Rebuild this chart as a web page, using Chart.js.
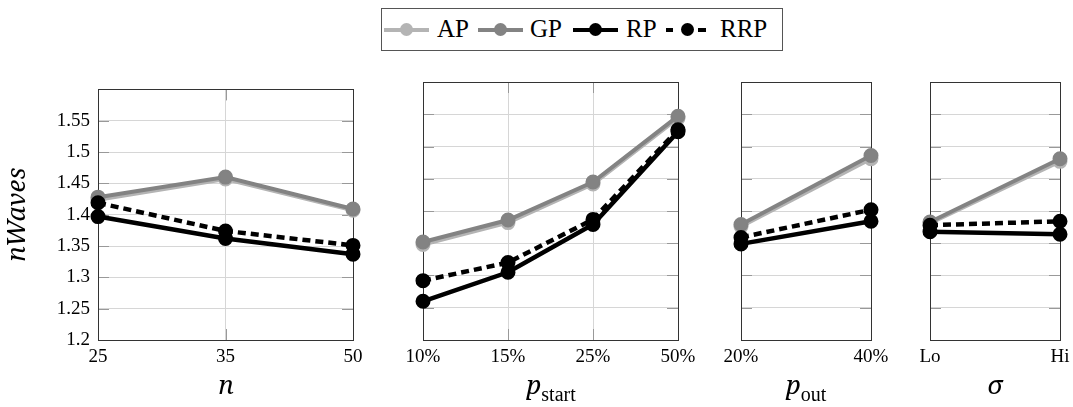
<!DOCTYPE html>
<html>
<head>
<meta charset="utf-8">
<script src="https://cdn.jsdelivr.net/npm/chart.js@4"></script>
<style>
  body { margin: 0; background: #fff; }
  #wrap { position: relative; width: 1073px; height: 407px; overflow: hidden; font-family: 'Liberation Serif', 'Times New Roman', serif; }
  canvas { position: absolute; }
  #legend { position: absolute; left: 381px; top: 8px; width: 400px; height: 41px; border: 1px solid #555; }
  .item { position: absolute; top: 0; height: 41px; }
  .sample { position: absolute; top: 19px; height: 4px; }
  .dot { position: absolute; top: 14px; width: 13px; height: 13px; border-radius: 50%; }
  .lbl { position: absolute; top: 6px; font-size: 25px; line-height: 28px; color: #000; white-space: nowrap; }
  .xt { position: absolute; top: 370px; font-family: 'Noto Serif', serif; font-size: 26px; line-height: 28px; font-style: italic; transform: translateX(-50%); white-space: nowrap; }
  .xt sub { font-family: 'Liberation Serif', serif; font-style: normal; font-size: 20px; vertical-align: -7px; line-height: 0; }
</style>
</head>
<body>
<div id="wrap">
  <canvas id="c1" width="383" height="300" style="left:0px;top:70px"></canvas>
  <canvas id="c2" width="315" height="300" style="left:393px;top:70px"></canvas>
  <canvas id="c3" width="190" height="300" style="left:711px;top:70px"></canvas>
  <canvas id="c4" width="190" height="300" style="left:900px;top:70px"></canvas>
  <div id="legend"></div>
  <div class="xt" style="left:226px">n</div>
  <div class="xt" style="left:551px">p<sub>start</sub></div>
  <div class="xt" style="left:806px">p<sub>out</sub></div>
  <div class="xt" style="left:995px">σ</div>
</div>
<script>
// series names + colours
const seriesNames = ['AP', 'GP', 'RP', 'RRP'];
const seriesColors = ['#b4b4b4', '#838383', '#000000', '#000000'];

// panel 1: n
const nLabels = ['25', '35', '50'];
const apN = [1.424, 1.457, 1.407];
const gpN = [1.428, 1.460, 1.409];
const rpN = [1.397, 1.362, 1.337];
const rrpN = [1.419, 1.374, 1.351];

// panel 2: p_start
const startLabels = ['10%', '15%', '25%', '50%'];
const apStart = [1.348, 1.382, 1.442, 1.544];
const gpStart = [1.352, 1.386, 1.445, 1.547];
const rpStart = [1.260, 1.305, 1.379, 1.523];
const rrpStart = [1.292, 1.320, 1.387, 1.526];

// panel 3: p_out
const outLabels = ['20%', '40%'];
const apOut = [1.376, 1.481];
const gpOut = [1.379, 1.486];
const rpOut = [1.349, 1.384];
const rrpOut = [1.359, 1.402];

// panel 4: sigma
const sigmaLabels = ['Lo', 'Hi'];
const apSigma = [1.381, 1.477];
const gpSigma = [1.383, 1.481];
const rpSigma = [1.368, 1.364];
const rrpSigma = [1.378, 1.384];

// y axis
const yMin = 1.2, yMax = 1.6, yStep = 0.05;
const yTitle = 'nWaves';

const FONT = "'Liberation Serif', 'Times New Roman', serif";

// box + inner tick marks like pgfplots
const boxPlugin = {
    id: 'box',
    beforeDatasetsDraw(chart) {
        const { ctx, chartArea: a, scales } = chart;
        ctx.save();
        ctx.strokeStyle = '#999';
        ctx.lineWidth = 1;
        scales.y.ticks.forEach(t => {
            const y = Math.round(scales.y.getPixelForValue(t.value)) + 0.5;
            ctx.beginPath();
            ctx.moveTo(a.left, y); ctx.lineTo(a.left + 11, y);
            ctx.moveTo(a.right - 11, y); ctx.lineTo(a.right, y);
            ctx.stroke();
        });
        scales.x.ticks.forEach((t, i) => {
            const x = Math.round(scales.x.getPixelForTick(i)) + 0.5;
            ctx.beginPath();
            ctx.moveTo(x, a.bottom); ctx.lineTo(x, a.bottom - 11);
            ctx.moveTo(x, a.top); ctx.lineTo(x, a.top + 11);
            ctx.stroke();
        });
        ctx.strokeStyle = '#333';
        ctx.strokeRect(Math.round(a.left) + 0.5, Math.round(a.top) + 0.5,
            Math.round(a.right - a.left), Math.round(a.bottom - a.top));
        ctx.restore();
    }
};

function makeDatasets(vals) {
    return vals.map((data, i) => ({
        label: seriesNames[i],
        data: data,
        borderColor: seriesColors[i],
        backgroundColor: seriesColors[i],
        pointBackgroundColor: seriesColors[i],
        pointBorderColor: seriesColors[i],
        borderWidth: i < 2 ? 4 : 4.5,
        borderDash: i === 3 ? [8, 5] : [],
        pointRadius: 6.5,
        pointBorderWidth: 2,
        tension: 0,
        order: 4 - i
    }));
}

function makeChart(id, labels, vals, first, pad) {
    return new Chart(document.getElementById(id), {
        type: 'line',
        data: { labels: labels, datasets: makeDatasets(vals) },
        options: {
            responsive: false,
            animation: false,
            layout: { padding: { top: 12, left: pad.left, right: pad.right, bottom: 0 } },
            plugins: { legend: { display: false }, tooltip: { enabled: false } },
            scales: {
                x: {
                    type: 'category',
                    offset: false,
                    grid: { color: '#d6d6d6', drawTicks: false },
                    border: { display: false },
                    ticks: { color: '#000', font: { family: FONT, size: 19 }, padding: 6, maxRotation: 0, autoSkip: false },
                    afterFit: s => { s.height = 30; }
                },
                y: {
                    min: yMin, max: yMax,
                    grid: { color: '#d6d6d6', drawTicks: false },
                    border: { display: false },
                    ticks: {
                        display: first,
                        stepSize: yStep,
                        color: '#000',
                        font: { family: FONT, size: 19 },
                        padding: 8,
                        callback: v => v > yMax - 0.001 ? '' : String(+v.toFixed(2))
                    },
                    title: {
                        display: first,
                        text: yTitle,
                        color: '#000',
                        font: { family: "'Noto Serif', serif", size: 26, style: 'italic' },
                        padding: { top: 2, bottom: 0 }
                    },
                    afterFit: s => { s.width = first ? 98 : 0; }
                }
            }
        },
        plugins: [boxPlugin]
    });
}

makeChart('c1', nLabels, [apN, gpN, rpN, rrpN], true, { left: 0, right: 30 });
makeChart('c2', startLabels, [apStart, gpStart, rpStart, rrpStart], false, { left: 30, right: 30 });
makeChart('c3', outLabels, [apOut, gpOut, rpOut, rrpOut], false, { left: 30, right: 30 });
makeChart('c4', sigmaLabels, [apSigma, gpSigma, rpSigma, rrpSigma], false, { left: 30, right: 30 });

// legend
const legendPos = [[2, 55], [96, 148], [191, 244], [284, 338]];
const legend = document.getElementById('legend');
seriesNames.forEach((name, i) => {
    const item = document.createElement('div');
    item.className = 'item';
    item.style.left = legendPos[i][0] + 'px';
    let html = '';
    const c = seriesColors[i];
    if (i < 3) {
        html += `<div class="sample" style="left:0;width:45px;background:${c}"></div>`;
        html += `<div class="dot" style="left:16px;background:${c}"></div>`;
    } else {
        html += `<div class="sample" style="left:0;width:7px;background:${c}"></div>`;
        html += `<div class="dot" style="left:15px;background:${c}"></div>`;
        html += `<div class="sample" style="left:32px;width:8px;background:${c}"></div>`;
    }
    html += `<div class="lbl" style="left:${legendPos[i][1] - legendPos[i][0]}px">${name}</div>`;
    item.innerHTML = html;
    legend.appendChild(item);
});
</script>
</body>
</html>
